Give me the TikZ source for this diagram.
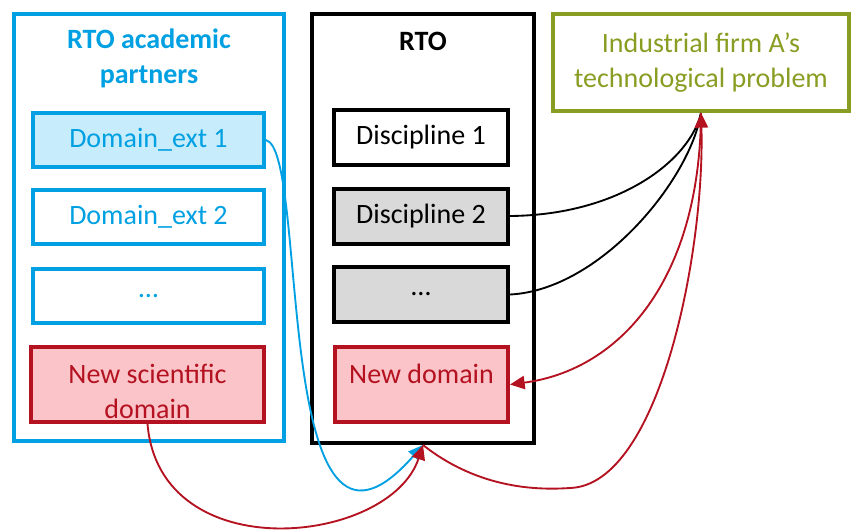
\documentclass[tikz,border=0pt]{standalone}
\usepackage{fontspec}
\setmainfont{Carlito}
\usetikzlibrary{arrows.meta}
\definecolor{acadblue}{RGB}{0,160,226}
\definecolor{acadfill}{RGB}{199,236,251}
\definecolor{newred}{RGB}{180,18,32}
\definecolor{newfill}{RGB}{251,196,201}
\definecolor{firmgreen}{RGB}{137,157,35}
\definecolor{discgray}{RGB}{217,217,217}
\newcommand{\topgap}{\rule{0pt}{25pt}}

\begin{document}
\begin{tikzpicture}[x=0.75pt, y=-0.75pt
            , font=\fontsize{21}{26.25}\selectfont,
            frame/.style={draw, line width=3pt, inner sep=0pt},
            acad/.style={frame, draw=acadblue, text=acadblue, minimum width=173pt, minimum height=40pt},
            disc/.style={frame, draw=black, minimum width=130.5pt, minimum height=41.25pt},
            newdom/.style={frame, draw=newred, fill=newfill, text=newred, align=center, minimum height=56.25pt},
            link/.style={line width=1.4pt},
            arr/.style={link, -{Triangle[length=11pt,width=10pt]}}]
        \useasboundingbox (0,0) rectangle (853,529);
        \node[frame, draw=acadblue, minimum width=202.5pt, minimum height=320.25pt] (partners) at (149,227.5) {};
        \node[text=acadblue, font=\fontsize{21}{26.25}\selectfont\bfseries, align=center] (partnerstitle) at (149,58.5) {RTO academic\\partners};
        \node[acad, fill=acadfill] (ext1) at (148.5,140) {Domain\_ext 1};
        \node[acad] (ext2) at (148.5,217) {Domain\_ext 2};
        \node[acad] (ext3) at (148.5,296) {…};
        \node[newdom, minimum width=174.75pt] (newsci) at (147.5,384.5) {\topgap New scientific\\domain};
        \node[frame, minimum width=166.5pt, minimum height=321.75pt] (rto) at (423,228.5) {};
        \node[font=\fontsize{21}{26.25}\selectfont\bfseries] (rtotitle) at (423,41) {RTO};
        \node[disc] (disc1) at (421,137.5) {Discipline 1};
        \node[disc, fill=discgray] (disc2) at (421,216) {Discipline 2};
        \node[disc, fill=discgray] (disc3) at (421,294.5) {…};
        \node[newdom, minimum width=129.75pt] (newrto) at (421.5,384.5) {\topgap New domain\\\mbox{}};
        \node[frame, draw=firmgreen, text=firmgreen, align=center, minimum width=222pt, minimum height=72.75pt] (firm) at (701,62.5) {Industrial firm A’s\\technological problem};
        \draw[link] (disc2.east) .. controls (620,215) and (690,160) .. (firm.south);
        \draw[link] (disc3.east) .. controls (600,290) and (690,180) .. (firm.south);
        \draw[arr, acadblue] (ext1.east) .. controls (310,150) and (270,620) .. (rto.south);
        \draw[arr, newred] (newsci.south) .. controls (160,570) and (390,545) .. (rto.south);
        \draw[arr, newred] (rto.south) .. controls (480,490) and (540,490) .. (570,488) .. controls (660,485) and (705,250) .. (firm.south);
        \draw[arr, newred] (firm.south) .. controls (700,280) and (620,370) .. (newrto.east);
        \end{tikzpicture}
\end{document}
